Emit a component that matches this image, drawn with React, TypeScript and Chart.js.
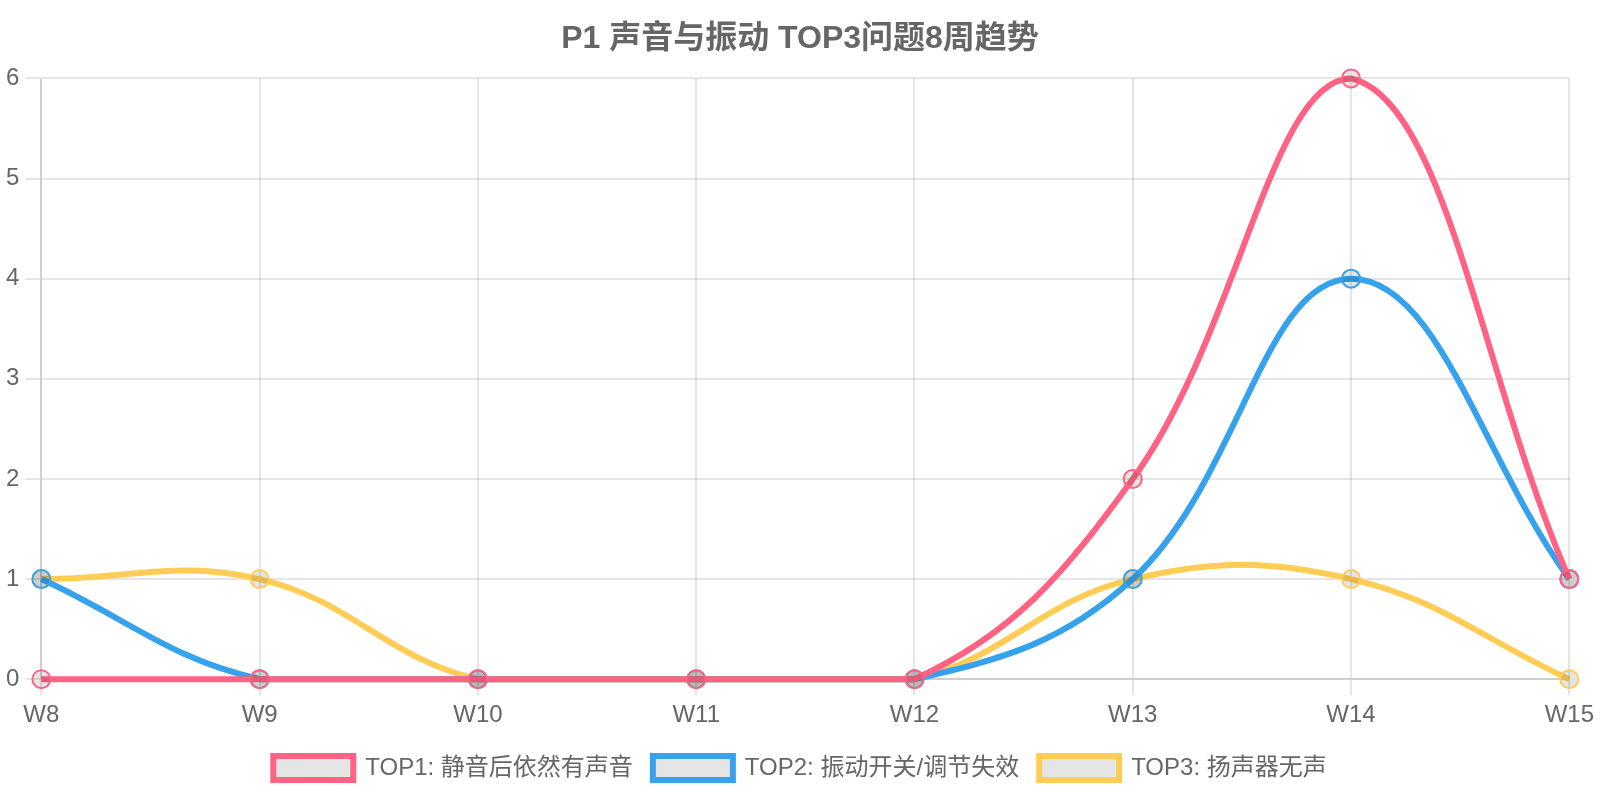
import React, { useEffect, useRef } from "react";
import { Chart, registerables } from "chart.js";

Chart.register(...registerables);

const weeks = ["W8", "W9", "W10", "W11", "W12", "W13", "W14", "W15"];
const top1Values = [0, 0, 0, 0, 0, 2, 6, 1];
const top2Values = [1, 0, 0, 0, 0, 1, 4, 1];
const top3Values = [1, 1, 0, 0, 0, 1, 1, 0];
const seriesLabels = ["TOP1: 静音后依然有声音", "TOP2: 振动开关/调节失效", "TOP3: 扬声器无声"];
const chartTitle = "P1 声音与振动 TOP3问题8周趋势";

const FONT = "'Helvetica Neue', Helvetica, Arial, 'Noto Sans CJK SC', sans-serif";

export default function App() {
  const ref = useRef<HTMLCanvasElement | null>(null);

  useEffect(() => {
    if (!ref.current) return;
    Chart.defaults.font.family = FONT;
    Chart.defaults.color = "#666";
    const mk = (label: string, data: number[], color: string) => ({
      label,
      data,
      borderColor: color,
      backgroundColor: "rgba(0,0,0,0.1)",
      pointBackgroundColor: "rgba(0,0,0,0.1)",
      pointBorderColor: color,
      borderWidth: 6,
      pointRadius: 9,
      pointBorderWidth: 2,
      tension: 0.4,
      fill: false,
      clip: false as any,
    });
    const chart = new Chart(ref.current, {
      type: "line",
      data: {
        labels: weeks,
        datasets: [
          mk(seriesLabels[0], top1Values, "rgb(255,99,132)"),
          mk(seriesLabels[1], top2Values, "rgb(54,162,235)"),
          mk(seriesLabels[2], top3Values, "rgb(255,205,86)"),
        ],
      },
      options: {
        animation: false,
        responsive: true,
        maintainAspectRatio: false,
        layout: { padding: { bottom: 10 } },
        plugins: {
          title: {
            display: true,
            text: chartTitle,
            font: { size: 32, weight: "bold" },
            padding: 20,
            color: "#666",
          },
          legend: {
            position: "bottom",
            labels: {
              font: { size: 24 },
              boxWidth: 80,
              padding: 20,
              color: "#666",
            },
          },
          tooltip: { enabled: false },
        },
        scales: {
          x: {
            grid: { lineWidth: 2, tickLength: 16, color: "rgba(0,0,0,0.1)" },
            border: { width: 2 },
            ticks: { font: { size: 24 }, padding: 6, color: "#666" },
          },
          y: {
            min: 0,
            max: 6,
            grid: { lineWidth: 2, tickLength: 16, color: "rgba(0,0,0,0.1)" },
            border: { width: 2 },
            ticks: { font: { size: 24 }, padding: 6, stepSize: 1, color: "#666" },
          },
        },
      },
    });
    return () => chart.destroy();
  }, []);

  return (
    <div style={{ position: "fixed", left: 0, top: 0, width: 1600, height: 800 }}>
      <canvas ref={ref} />
    </div>
  );
}
